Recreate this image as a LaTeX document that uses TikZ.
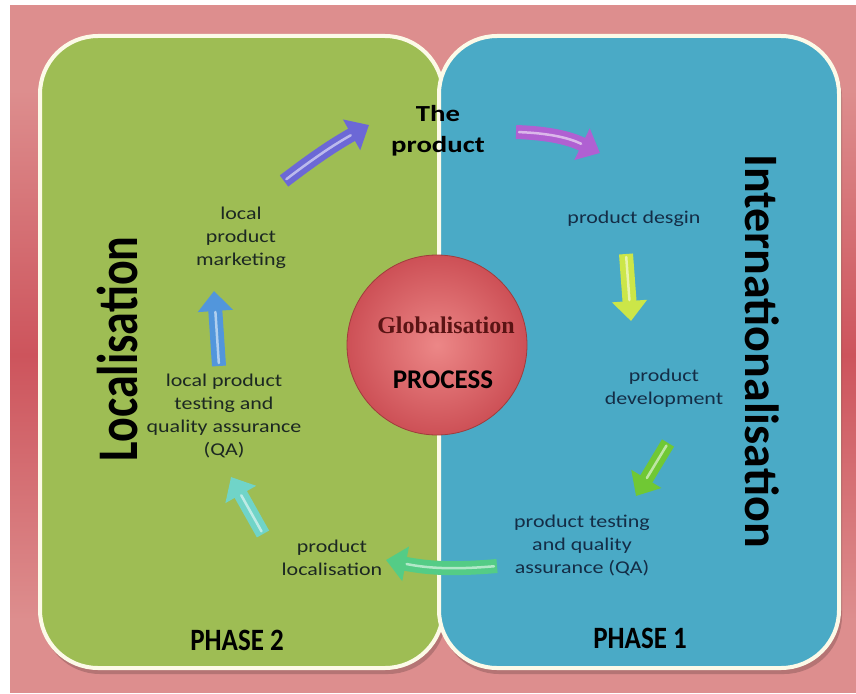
\documentclass[tikz,border=0pt]{standalone}
\usepackage{fontspec}
\setmainfont{Carlito}
\newfontfamily\serifbold{Liberation Serif}
\usetikzlibrary{arrows.meta}
\definecolor{bgpink}{RGB}{221,142,142}
\definecolor{bgred}{RGB}{205,84,92}
\definecolor{boxgreen}{RGB}{158,189,84}
\definecolor{boxblue}{RGB}{74,170,198}
\definecolor{rim}{RGB}{252,250,232}
\definecolor{txtdark}{RGB}{28,40,34}
\definecolor{txtnavy}{RGB}{20,45,70}
\definecolor{ballin}{RGB}{236,135,135}
\definecolor{ballout}{RGB}{205,80,86}
\definecolor{ballrim}{RGB}{160,60,60}
\definecolor{globred}{RGB}{90,20,20}
\definecolor{arA}{RGB}{108,104,214}
\definecolor{arB}{RGB}{176,96,210}
\definecolor{arC}{RGB}{204,230,72}
\definecolor{arD}{RGB}{112,200,52}
\definecolor{arE}{RGB}{84,204,134}
\definecolor{arF}{RGB}{112,212,200}
\definecolor{arG}{RGB}{82,150,220}
\tikzset{
  phasebox/.style={draw=rim, line width=4pt, rounded corners=58pt},
  boxshadow/.style={fill=black, fill opacity=.18, rounded corners=58pt},
  small/.style={align=center, text=txtdark, xscale=1.22, font=\fontsize{18}{23}\selectfont},
  smallblue/.style={small, text=txtnavy},
  phase/.style={text=black, font=\bfseries\fontsize{27}{30}\selectfont, yscale=1.15},
  fatarrow/.style={line width=14pt, draw=#1, -{Triangle[length=20pt,width=34pt]}},
  hilite/.style={line width=2.5pt, draw=white, draw opacity=.55, line cap=round, shorten >=21pt, shorten <=3pt}
}
\begin{document}
\begin{tikzpicture}[x=1pt,y=-1pt]
\useasboundingbox (0,0) rectangle (856,693);
% background
\fill[white] (0,0) rectangle (856,693);
\fill[bgpink] (10,5) rectangle (856,693);
\shade[top color=bgpink, bottom color=bgpink, middle color=bgred] (10,90) rectangle (40,620);
\shade[top color=bgpink, bottom color=bgpink, middle color=bgred] (840,90) rectangle (856,620);
% boxes
\fill[boxshadow] (42,40) rectangle (446,674);
\fill[boxgreen, rounded corners=58pt] (40,36) rectangle (443,668);
\draw[phasebox] (40,36) rectangle (443,668);
\fill[boxshadow] (441,40) rectangle (842,674);
\fill[boxblue, rounded corners=58pt] (439,36) rectangle (839,668);
\draw[phasebox] (439,36) rectangle (839,668);
% central ball
\shade[inner color=ballin, outer color=ballout] (437,345) circle (90);
\draw[ballrim, line width=0.8pt] (437,345) circle (90);
\node[text=globred, font=\serifbold\bfseries\fontsize{24}{26}\selectfont] (glob) at (446,325) {Globalisation};
\node[text=black, font=\bfseries\fontsize{27}{30}\selectfont] (proc) at (443,380) {PROCESS};
% texts
\node[align=center, text=black, xscale=1.25, font=\bfseries\fontsize{23}{31}\selectfont] (prod) at (438,131) {The\\product};
\node[small] (lpm) at (241,238) {local\\product\\marketing};
\node[smallblue] (pd) at (634,219) {product desgin};
\node[smallblue] (pdev) at (664,388) {product\\development};
\node[smallblue] (ptq) at (582,545) {product testing\\and quality\\assurance (QA)};
\node[small] (ploc) at (332,558) {product\\localisation};
\node[small] (lpt) at (224,416) {local product\\testing and\\quality assurance\\(QA)};
\node[text=black, rotate=90, font=\bfseries\fontsize{46}{50}\selectfont] (loc) at (117,349) {\scalebox{1}[1.25]{Localisation}};
\node[text=black, rotate=-90, font=\bfseries\fontsize{48}{52}\selectfont] (intl) at (762,351) {Internationalisation};
\node[phase] (ph2) at (237,640) {PHASE 2};
\node[phase] (ph1) at (640,638) {PHASE 1};
% arrow end points
\coordinate (a1s) at (284,181); \coordinate (a1e) at (369,125);
\coordinate (a2s) at (516,132); \coordinate (a2e) at (600,153);
\coordinate (a3s) at (626,254); \coordinate (a3e) at (631,321);
\coordinate (a4s) at (668,443); \coordinate (a4e) at (636,496);
\coordinate (a5s) at (497,566); \coordinate (a5e) at (386,560);
\coordinate (a6s) at (263,534); \coordinate (a6e) at (231,477);
\coordinate (a7s) at (219,366); \coordinate (a7e) at (214,291);
% arrows
\draw[fatarrow=arA] (a1s) to[bend left=4] (a1e);
\draw[hilite] (a1s) to[bend left=4] (a1e);
\draw[fatarrow=arB] (a2s) to[bend left=12] (a2e);
\draw[hilite] (a2s) to[bend left=12] (a2e);
\draw[fatarrow=arC] (a3s) -- (a3e);
\draw[hilite] (a3s) -- (a3e);
\draw[fatarrow=arD] (a4s) -- (a4e);
\draw[hilite] (a4s) -- (a4e);
\draw[fatarrow=arE] (a5s) to[bend left=8] (a5e);
\draw[hilite] (a5s) to[bend left=8] (a5e);
\draw[fatarrow=arF] (a6s) -- (a6e);
\draw[hilite] (a6s) -- (a6e);
\draw[fatarrow=arG] (a7s) -- (a7e);
\draw[hilite] (a7s) -- (a7e);
\end{tikzpicture}
\end{document}
